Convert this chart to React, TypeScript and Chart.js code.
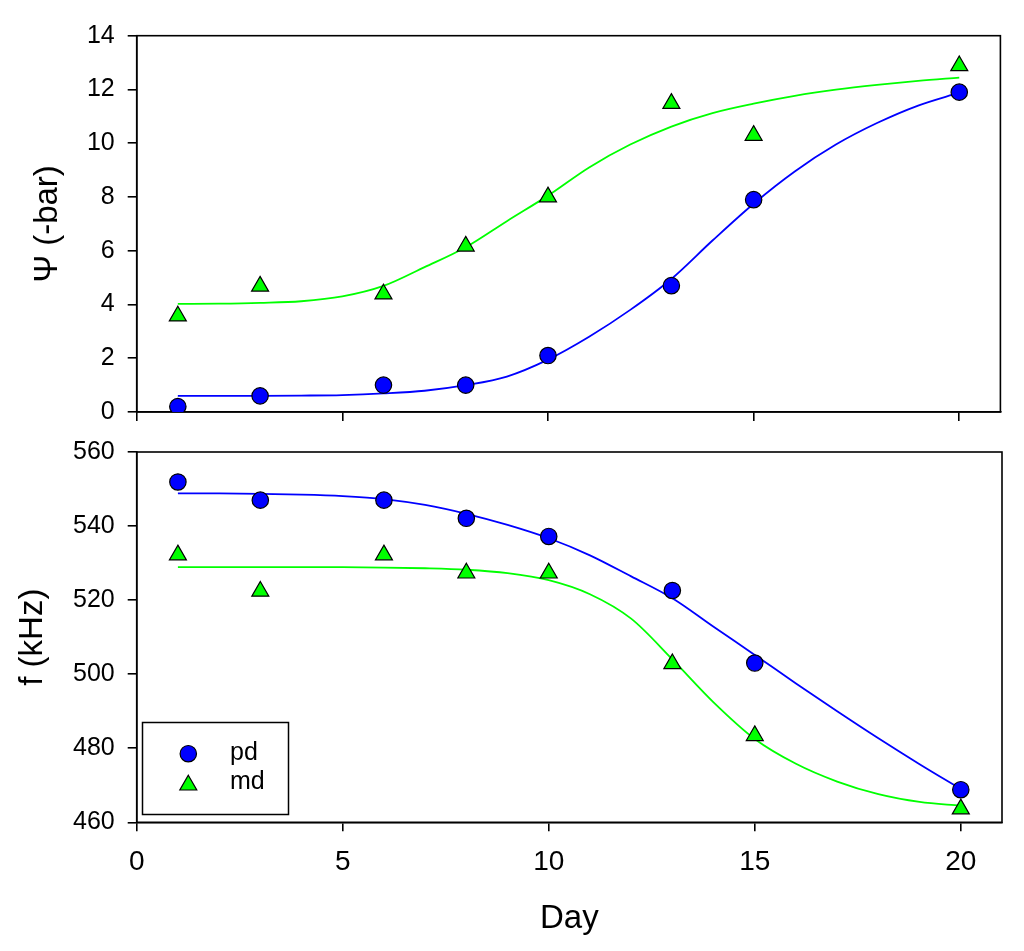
import React, { useEffect, useRef } from "react";
import Chart from "chart.js/auto";
import { drawPoint } from "chart.js/helpers";

// measured points
const days = [1, 3, 6, 8, 10, 13, 15, 20];
const psiPd = [0.2, 0.6, 1.0, 1.0, 2.1, 4.7, 7.9, 11.9];
const psiMd = [3.57, 4.68, 4.39, 6.17, 8.0, 11.48, 10.29, 12.88];
const freqPd = [551.9, 547.0, 547.0, 542.1, 537.2, 522.6, 503.0, 468.8];
const freqMd = [532.2, 522.4, 532.2, 527.3, 527.3, 502.8, 483.4, 463.6];

// fitted curves at each day
const fitDays = [1, 2, 3, 4, 5, 6, 7, 8, 9, 10, 11, 12, 13, 14, 15, 16, 17, 18, 19, 20];
const fitPsiPd = [0.6, 0.6, 0.6, 0.61, 0.63, 0.69, 0.79, 1.0, 1.32, 1.95, 2.8, 3.8, 4.95, 6.38, 7.75, 8.95, 9.95, 10.75, 11.4, 11.88];
const fitPsiMd = [4.02, 4.03, 4.06, 4.12, 4.3, 4.69, 5.39, 6.13, 7.1, 8.05, 9.1, 9.95, 10.62, 11.12, 11.47, 11.76, 11.99, 12.17, 12.32, 12.44];
const fitFreqPd = [548.8, 548.8, 548.7, 548.5, 548.1, 547.3, 545.7, 543.3, 540.3, 536.7, 532.1, 526.4, 520.5, 512.8, 505.2, 497.5, 490.0, 482.7, 475.7, 469.0];
const fitFreqMd = [528.9, 528.9, 528.9, 528.9, 528.9, 528.8, 528.6, 528.2, 527.3, 525.4, 521.6, 515.0, 504.0, 492.4, 482.5, 475.8, 471.0, 467.6, 465.5, 464.5];

const seriesNames = ["pd", "md"];
const BLUE = "#0000ff";
const GREEN = "#00ff00";
const FONT = '"Liberation Sans", Arial, sans-serif';
const CIRCLE_R = 8.2;
const TRI_R = 9.8;

const pts = (xs: number[], ys: number[]) => xs.map((x, i) => ({ x, y: ys[i] }));

const framePlugin = {
  id: "frame",
  beforeDatasetsDraw(chart: any) {
    const { ctx, chartArea: a } = chart;
    ctx.save();
    ctx.strokeStyle = "#000";
    ctx.lineWidth = 1.6;
    ctx.strokeRect(a.left, a.top, a.right - a.left, a.bottom - a.top);
    ctx.restore();
  },
};

const boxLegend = {
  id: "boxLegend",
  afterDraw(chart: any) {
    const { ctx, chartArea: a } = chart;
    const w = 146;
    const h = 92;
    const left = a.left + 5.8;
    const top = a.bottom - 7.8 - h;
    ctx.save();
    ctx.strokeStyle = "#000";
    ctx.lineWidth = 1.5;
    ctx.strokeRect(left, top, w, h);
    const styles = [
      { pointStyle: "circle", radius: CIRCLE_R, fill: BLUE, y: top + 31.2, ty: top + 30.5 },
      { pointStyle: "triangle", radius: TRI_R, fill: GREEN, y: top + 62.6, ty: top + 59.5 },
    ];
    styles.forEach((s, i) => {
      ctx.fillStyle = s.fill;
      ctx.strokeStyle = "#000";
      ctx.lineWidth = 1.2;
      drawPoint(ctx, { pointStyle: s.pointStyle, radius: s.radius, rotation: 0, borderWidth: 1.2 } as any, left + 45.8, s.y);
      ctx.fillStyle = "#000";
      ctx.font = `25px ${FONT}`;
      ctx.textAlign = "left";
      ctx.textBaseline = "middle";
      ctx.fillText(seriesNames[i], left + 87.5, s.ty);
    });
    ctx.restore();
  },
};

const axisLine = { display: true, color: "#000", width: 1.6 };
const tickMarks = { drawOnChartArea: false, drawTicks: true, tickLength: 9, color: "#000", lineWidth: 1.6 };

function buildDatasets(pd: number[], md: number[], fitPd: number[], fitMd: number[]) {
  return [
    {
      type: "scatter" as const,
      label: seriesNames[0],
      data: pts(days, pd),
      pointStyle: "circle",
      pointRadius: CIRCLE_R,
      backgroundColor: BLUE,
      borderColor: "#000",
      borderWidth: 1.2,
      order: 0,
    },
    {
      type: "scatter" as const,
      label: seriesNames[1],
      data: pts(days, md),
      pointStyle: "triangle",
      pointRadius: TRI_R,
      backgroundColor: GREEN,
      borderColor: "#000",
      borderWidth: 1.2,
      order: 1,
    },
    {
      type: "line" as const,
      label: "fit pd",
      data: pts(fitDays, fitPd),
      borderColor: BLUE,
      borderWidth: 1.8,
      pointRadius: 0,
      cubicInterpolationMode: "monotone" as const,
      fill: false,
      order: 2,
    },
    {
      type: "line" as const,
      label: "fit md",
      data: pts(fitDays, fitMd),
      borderColor: GREEN,
      borderWidth: 1.8,
      pointRadius: 0,
      cubicInterpolationMode: "monotone" as const,
      fill: false,
      order: 3,
    },
  ];
}

function topConfig(): any {
  return {
    type: "scatter",
    data: { datasets: buildDatasets(psiPd, psiMd, fitPsiPd, fitPsiMd) },
    options: {
      responsive: false,
      animation: false,
      events: [],
      layout: { padding: { top: 35.7, right: 23.6, left: 0, bottom: 0 } },
      plugins: { legend: { display: false }, tooltip: { enabled: false } },
      scales: {
        x: {
          type: "linear",
          min: 0,
          max: 21,
          ticks: { display: false, stepSize: 5, includeBounds: false },
          grid: tickMarks,
          border: axisLine,
          afterFit: (s: any) => { s.height = 24; },
        },
        y: {
          type: "linear",
          min: 0,
          max: 14,
          ticks: { stepSize: 2, padding: 13, color: "#000", font: { family: FONT, size: 25 } },
          grid: tickMarks,
          border: axisLine,
          title: {
            display: true,
            text: "Ψ (-bar)",
            color: "#000",
            font: { family: FONT, size: 33 },
            padding: { top: 28.2, bottom: 0 },
          },
          afterFit: (s: any) => { s.width = 136.7; },
        },
      },
    },
    plugins: [framePlugin],
  };
}

function bottomConfig(): any {
  return {
    type: "scatter",
    data: { datasets: buildDatasets(freqPd, freqMd, fitFreqPd, fitFreqMd) },
    options: {
      responsive: false,
      animation: false,
      events: [],
      layout: { padding: { top: 18.3, right: 22, left: 0, bottom: 12.2 } },
      plugins: { legend: { display: false }, tooltip: { enabled: false } },
      scales: {
        x: {
          type: "linear",
          min: 0,
          max: 21,
          ticks: { stepSize: 5, includeBounds: false, padding: 14, color: "#000", font: { family: FONT, size: 28 } },
          grid: tickMarks,
          border: axisLine,
          title: {
            display: true,
            text: "Day",
            color: "#000",
            font: { family: FONT, size: 33 },
            padding: { top: 0, bottom: 0 },
          },
          afterFit: (s: any) => { s.height = 116.5; },
        },
        y: {
          type: "linear",
          min: 460,
          max: 560,
          ticks: { stepSize: 20, padding: 13, color: "#000", font: { family: FONT, size: 25 } },
          grid: tickMarks,
          border: axisLine,
          title: {
            display: true,
            text: "f (kHz)",
            color: "#000",
            font: { family: FONT, size: 33 },
            padding: { top: 12.7, bottom: 0 },
          },
          afterFit: (s: any) => { s.width = 136.7; },
        },
      },
    },
    plugins: [framePlugin, boxLegend],
  };
}

function Panel({ top, height, build }: { top: number; height: number; build: () => any }) {
  const canvasRef = useRef<HTMLCanvasElement | null>(null);

  useEffect(() => {
    const ctx = canvasRef.current?.getContext("2d");
    if (!ctx) return;
    const chart = new Chart(ctx, build());
    return () => {
      chart.destroy();
    };
  }, [build]);

  return (
    <canvas
      ref={canvasRef}
      width={1024}
      height={height}
      style={{ position: "absolute", left: 0, top, width: 1024, height }}
    />
  );
}

export default function App() {
  return (
    <div style={{ position: "absolute", left: 0, top: 0, width: 1024, height: 951, background: "#fff" }}>
      <Panel top={0} height={440} build={topConfig} />
      <Panel top={424} height={527} build={bottomConfig} />
    </div>
  );
}
